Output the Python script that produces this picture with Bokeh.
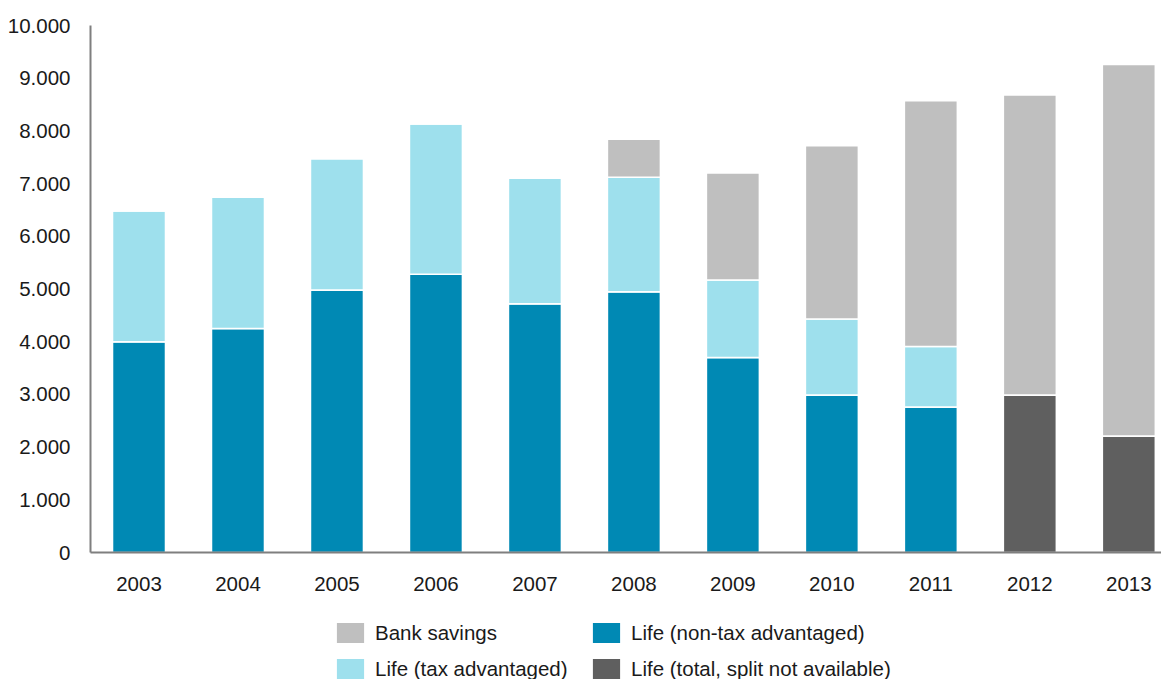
from bokeh.plotting import figure
from bokeh.layouts import column
from bokeh.models import Range1d, FixedTicker, Legend, LegendItem, ColumnDataSource
from bokeh.embed import file_html
from bokeh.resources import INLINE

years = ["2003", "2004", "2005", "2006", "2007", "2008", "2009", "2010", "2011", "2012", "2013"]
life_non_tax = [4000, 4250, 4980, 5280, 4720, 4950, 3700, 2990, 2760, 0, 0]
life_total_na = [0, 0, 0, 0, 0, 0, 0, 0, 0, 2990, 2210]
life_tax = [2480, 2490, 2490, 2850, 2380, 2170, 1470, 1440, 1150, 0, 0]
bank_savings = [0, 0, 0, 0, 0, 720, 2030, 3290, 4660, 5690, 7050]

y_ticks = [0, 1000, 2000, 3000, 4000, 5000, 6000, 7000, 8000, 9000, 10000]
y_tick_labels = ["0", "1.000", "2.000", "3.000", "4.000", "5.000", "6.000", "7.000", "8.000", "9.000", "10.000"]

series_labels = ["Life (non-tax advantaged)", "Life (total, split not available)",
                 "Life (tax advantaged)", "Bank savings"]
colors = ["#0089B4", "#5F5F5F", "#9EE0ED", "#BFBFBF"]

FONT = "Liberation Sans"
FS = "20.5px"
TXT = "#1a1a1a"

xs = list(range(len(years)))
src = ColumnDataSource(dict(x=xs, non_tax=life_non_tax, total_na=life_total_na,
                            tax=life_tax, bank=bank_savings))
fields = ["non_tax", "total_na", "tax", "bank"]

p = figure(width=1161, height=612, output_backend="svg", toolbar_location=None,
           x_range=Range1d(-0.49, 10.33), y_range=Range1d(0, 10000),
           min_border_left=90, min_border_right=0, min_border_top=25, min_border_bottom=60)
p.outline_line_color = None
p.xgrid.grid_line_color = None
p.ygrid.grid_line_color = None

rs = p.vbar_stack(fields, x="x", width=0.535, color=colors, source=src,
                  line_color="white", line_width=1.5)

p.xaxis.ticker = FixedTicker(ticks=xs)
p.xaxis.major_label_overrides = {i: y for i, y in enumerate(years)}
p.yaxis.ticker = FixedTicker(ticks=y_ticks)
p.yaxis.major_label_overrides = {t: l for t, l in zip(y_ticks, y_tick_labels)}
for ax in (p.xaxis, p.yaxis):
    ax.axis_line_color = "#7f7f7f"
    ax.axis_line_width = 2
    ax.major_tick_line_color = None
    ax.minor_tick_line_color = None
    ax.major_label_text_font = FONT
    ax.major_label_text_font_size = FS
    ax.major_label_text_color = TXT
p.xaxis.major_label_standoff = 18
p.yaxis.major_label_standoff = 14

# legend strip below the chart (same series, drawn off-screen, only the legend shows)
lg = figure(width=1161, height=67, output_backend="svg", toolbar_location=None,
            x_range=Range1d(-100, -99), y_range=Range1d(0, 10000),
            x_axis_location=None, y_axis_location=None,
            min_border_left=90, min_border_right=0, min_border_top=0, min_border_bottom=0)
lg.grid.visible = False
lg.outline_line_color = None
lrs = lg.vbar_stack(fields, x="x", width=0.535, color=colors, source=src, line_color=None)
order = [3, 2, 0, 1]
items = [LegendItem(label=series_labels[i], renderers=[lrs[i]]) for i in order]
legend = Legend(items=items, location=(243, -2), ncols=2,
                label_text_font=FONT, label_text_font_size=FS, label_text_color=TXT,
                glyph_width=34, glyph_height=25, label_height=25, label_width=203,
                label_standoff=8, spacing=11, padding=0, margin=0,
                border_line_color=None, background_fill_alpha=0)
lg.add_layout(legend, "center")

layout = column(p, lg, spacing=0)
open("out.html", "w").write(file_html(layout, INLINE))
